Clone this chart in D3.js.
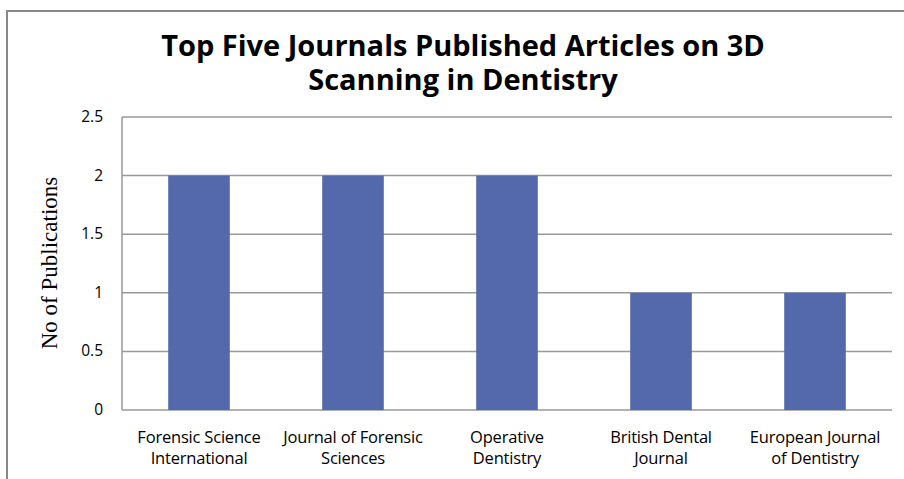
<!DOCTYPE html>
<html>
<head>
<meta charset="utf-8">
<script src="https://cdn.jsdelivr.net/npm/d3@7"></script>
<style>
  body { margin: 0; background: #fff; }
  text { fill: #000; }
</style>
</head>
<body>
<svg id="chart" width="904" height="479"></svg>
<script>
const journals = [
    ['Forensic Science', 'International'],
    ['Journal of Forensic', 'Sciences'],
    ['Operative', 'Dentistry'],
    ['British Dental', 'Journal'],
    ['European Journal', 'of Dentistry']
];
const publications = [2, 2, 2, 1, 1];
const yTicks = [0, 0.5, 1, 1.5, 2, 2.5];
const titleLines = ['Top Five Journals Published Articles on 3D', 'Scanning in Dentistry'];

const barColor = '#5369ac'
const gridColor = '#999'
const plotLeft = 122, plotRight = 892, plotTop = 117, plotBottom = 410

let svg = d3.select('#chart');

// outer frame (left and top edges only visible)
svg.append('path')
    .attr('d', 'M7,479 V11 H904')
    .style('fill', 'none')
    .style('stroke', '#888')
    .style('stroke-width', 2);

svg.selectAll('.title')
    .data(titleLines)
    .enter()
    .append('text')
    .attr('class', 'title')
    .attr('x', 463)
    .attr('y', (_, i) => 56 + i * 34)
    .attr('text-anchor', 'middle')
    .style('font-family', '"Open Sans", sans-serif')
    .style('font-weight', 'bold')
    .style('font-size', '29px')
    .style('letter-spacing', '0px')
    .text(d => d);

let x = d3.scaleBand()
    .domain(d3.range(journals.length))
    .range([plotLeft, plotRight])
    .paddingInner(0.6)
    .paddingOuter(0.3);

let y = d3.scaleLinear()
    .domain([0, 2.5])
    .range([plotBottom, plotTop]);

// gridlines
svg.selectAll('.grid')
    .data(yTicks)
    .enter()
    .append('line')
    .attr('class', 'grid')
    .attr('x1', plotLeft)
    .attr('x2', plotRight)
    .attr('y1', d => y(d))
    .attr('y2', d => y(d))
    .style('stroke', gridColor)
    .style('stroke-width', 1.5);

// left plot border
svg.append('line')
    .attr('x1', plotLeft).attr('x2', plotLeft)
    .attr('y1', plotTop).attr('y2', plotBottom)
    .style('stroke', gridColor)
    .style('stroke-width', 1.5);

svg.selectAll('.tick-label')
    .data(yTicks)
    .enter()
    .append('text')
    .attr('class', 'tick-label')
    .attr('x', 103)
    .attr('y', d => y(d) + 5)
    .attr('text-anchor', 'end')
    .style('font-family', '"Open Sans", sans-serif')
    .style('font-size', '15.5px')
    .text(d => d);

svg.selectAll('.bar')
    .data(publications)
    .enter()
    .append('rect')
    .attr('class', 'bar')
    .attr('x', (_, i) => x(i))
    .attr('width', x.bandwidth())
    .attr('y', d => y(d))
    .attr('height', d => y(0) - y(d))
    .style('fill', barColor);

// category labels, two lines each
let cat = svg.selectAll('.cat')
    .data(journals)
    .enter()
    .append('text')
    .attr('class', 'cat')
    .attr('text-anchor', 'middle')
    .style('font-family', '"Open Sans", sans-serif')
    .style('font-size', '16.5px')
    .style('letter-spacing', '-0.2px');
cat.selectAll('tspan')
    .data((d, i) => d.map(s => [s, i]))
    .enter()
    .append('tspan')
    .attr('x', d => x(d[1]) + x.bandwidth() / 2)
    .attr('y', (_, j) => 443 + j * 21)
    .text(d => d[0]);

svg.append('text')
    .attr('transform', 'translate(57,263) rotate(-90)')
    .attr('text-anchor', 'middle')
    .style('font-family', '"Liberation Serif", serif')
    .style('font-size', '23px')
    .text('No of Publications');
</script>
</body>
</html>
